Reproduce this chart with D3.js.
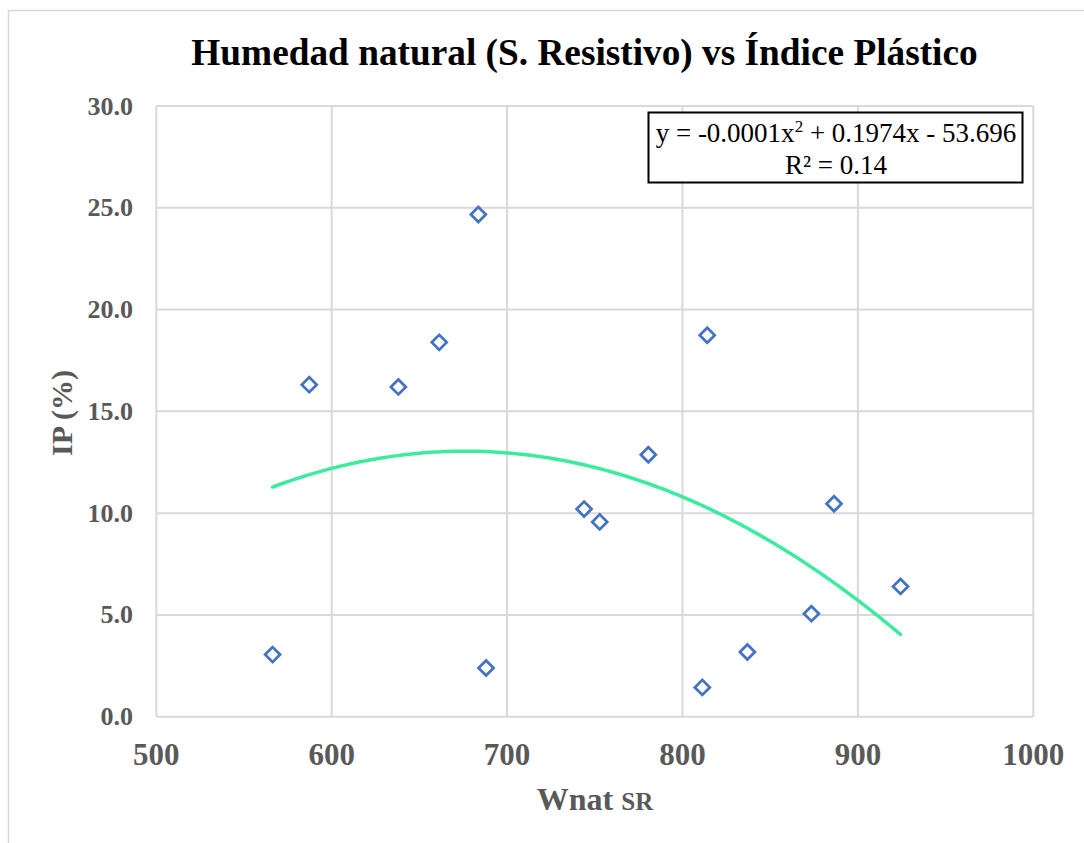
<!DOCTYPE html>
<html>
<head>
<meta charset="utf-8">
<script src="https://cdn.jsdelivr.net/npm/d3@7"></script>
<style>
  body { margin: 0; background: #fff; }
  svg { display: block; }
</style>
</head>
<body>
<div id="chart"></div>
<script>
// Wnat SR (x) and IP % (y)
const wnat = [566.3, 587.2, 638.0, 661.3, 683.6, 688.0, 743.9, 752.8, 780.5, 811.3, 814.1, 837.0, 873.5, 886.4, 924.3];
const ip   = [3.05, 16.31, 16.20, 18.39, 24.67, 2.39, 10.20, 9.57, 12.87, 1.44, 18.74, 3.18, 5.06, 10.46, 6.40];

const xTicks = [500, 600, 700, 800, 900, 1000];
const yTicks = [0, 5, 10, 15, 20, 25, 30];

const titleText = "Humedad natural (S. Resistivo) vs Índice Plástico";
const eqParts = ["y = -0.0001x", "2", " + 0.1974x - 53.696"];
const r2Text = "R² = 0.14";

// least squares fit of y = a x^2 + b x + c (polynomial trendline)
function fitQuadratic(xs, ys) {
    const m = d3.mean(xs);
    const u = xs.map(x => x - m);
    const s = k => d3.sum(u, v => Math.pow(v, k));
    const t = k => d3.sum(u, (v, i) => Math.pow(v, k) * ys[i]);
    // normal equations in centered x
    const A = [[s(4), s(3), s(2)], [s(3), s(2), s(1)], [s(2), s(1), xs.length]];
    const B = [t(2), t(1), t(0)];
    // gaussian elimination
    for (let i = 0; i < 3; i++) {
        for (let j = i + 1; j < 3; j++) {
            const f = A[j][i] / A[i][i];
            for (let k = i; k < 3; k++) A[j][k] -= f * A[i][k];
            B[j] -= f * B[i];
        }
    }
    const r = [0, 0, 0];
    for (let i = 2; i >= 0; i--) {
        let v = B[i];
        for (let k = i + 1; k < 3; k++) v -= A[i][k] * r[k];
        r[i] = v / A[i][i];
    }
    return x => r[0] * (x - m) * (x - m) + r[1] * (x - m) + r[2];
}

function init() {
    const width = 1084, height = 843;
    const plot = { left: 156.3, right: 1033.3, top: 106, bottom: 716.7 };

    const svg = d3.select("#chart").append("svg")
        .attr("width", width)
        .attr("height", height);

    // outer chart frame
    svg.append("rect")
        .attr("x", 8.5).attr("y", 10.5)
        .attr("width", 1200).attr("height", 1000)
        .attr("fill", "#fff")
        .attr("stroke", "#d9d9d9")
        .attr("stroke-width", 1.5);

    const x = d3.scaleLinear().domain([500, 1000]).range([plot.left, plot.right]);
    const y = d3.scaleLinear().domain([0, 30]).range([plot.bottom, plot.top]);

    // gridlines
    svg.append("g")
        .selectAll("line.h")
        .data(yTicks)
        .enter().append("line")
        .attr("x1", plot.left).attr("x2", plot.right)
        .attr("y1", d => y(d)).attr("y2", d => y(d))
        .attr("stroke", "#d9d9d9").attr("stroke-width", 2);

    svg.append("g")
        .selectAll("line.v")
        .data(xTicks)
        .enter().append("line")
        .attr("y1", plot.top).attr("y2", plot.bottom)
        .attr("x1", d => x(d)).attr("x2", d => x(d))
        .attr("stroke", "#d9d9d9").attr("stroke-width", 2);

    // tick labels
    svg.append("g")
        .selectAll("text")
        .data(yTicks)
        .enter().append("text")
        .attr("x", 133)
        .attr("y", d => y(d))
        .attr("dy", "0.33em")
        .attr("text-anchor", "end")
        .style("font", "bold 26px 'Liberation Serif', 'Times New Roman', serif")
        .style("fill", "#595959")
        .text(d => d3.format(".1f")(d));

    svg.append("g")
        .selectAll("text")
        .data(xTicks)
        .enter().append("text")
        .attr("x", d => x(d))
        .attr("y", 765)
        .attr("text-anchor", "middle")
        .style("font", "bold 31px 'Liberation Serif', 'Times New Roman', serif")
        .style("fill", "#595959")
        .text(d => d);

    // axis titles
    const xt = svg.append("text")
        .attr("x", 595)
        .attr("y", 810)
        .attr("text-anchor", "middle")
        .style("font", "bold 32px 'Liberation Serif', 'Times New Roman', serif")
        .style("fill", "#595959");
    xt.append("tspan").text("Wnat ");
    xt.append("tspan").style("font-size", "25px").text("SR");

    svg.append("text")
        .attr("transform", "translate(72,413) rotate(-90)")
        .attr("text-anchor", "middle")
        .style("font", "bold 30px 'Liberation Serif', 'Times New Roman', serif")
        .style("fill", "#595959")
        .text("IP (%)");

    // chart title
    svg.append("text")
        .attr("x", 584.5)
        .attr("y", 65)
        .attr("text-anchor", "middle")
        .style("font", "bold 37.3px 'Liberation Serif', 'Times New Roman', serif")
        .style("fill", "#000")
        .text(titleText);

    // trendline
    const trend = fitQuadratic(wnat, ip);
    const xs = d3.range(d3.min(wnat), d3.max(wnat) + 0.01, 2);
    const line = d3.line()
        .x(d => x(d))
        .y(d => y(trend(d)));
    svg.append("path")
        .datum(xs)
        .attr("d", line)
        .attr("fill", "none")
        .attr("stroke", "#3deb9f")
        .attr("stroke-width", 3.5)
        .attr("stroke-linecap", "round");

    // markers
    const diamond = d3.symbol().type(d3.symbolSquare).size(112);
    svg.append("g")
        .selectAll("path")
        .data(wnat)
        .enter().append("path")
        .attr("d", diamond)
        .attr("transform", (d, i) => `translate(${x(d)},${y(ip[i])}) rotate(45)`)
        .attr("fill", "#fff")
        .attr("stroke", "#4472c4")
        .attr("stroke-width", 2.75);

    // equation box
    svg.append("rect")
        .attr("x", 648.5).attr("y", 112.5)
        .attr("width", 374).attr("height", 70)
        .attr("fill", "#fff")
        .attr("stroke", "#000")
        .attr("stroke-width", 2);

    const eq = svg.append("text")
        .attr("x", 836)
        .attr("y", 142)
        .attr("text-anchor", "middle")
        .style("font", "27px 'Liberation Serif', 'Times New Roman', serif")
        .style("fill", "#000");
    eq.append("tspan").text(eqParts[0]);
    eq.append("tspan").attr("dy", -10).style("font-size", "17px").text(eqParts[1]);
    eq.append("tspan").attr("dy", 10).text(eqParts[2]);

    svg.append("text")
        .attr("x", 836)
        .attr("y", 173.5)
        .attr("text-anchor", "middle")
        .style("font", "27px 'Liberation Serif', 'Times New Roman', serif")
        .style("fill", "#000")
        .text(r2Text);
}

window.onload = init;
</script>
</body>
</html>
